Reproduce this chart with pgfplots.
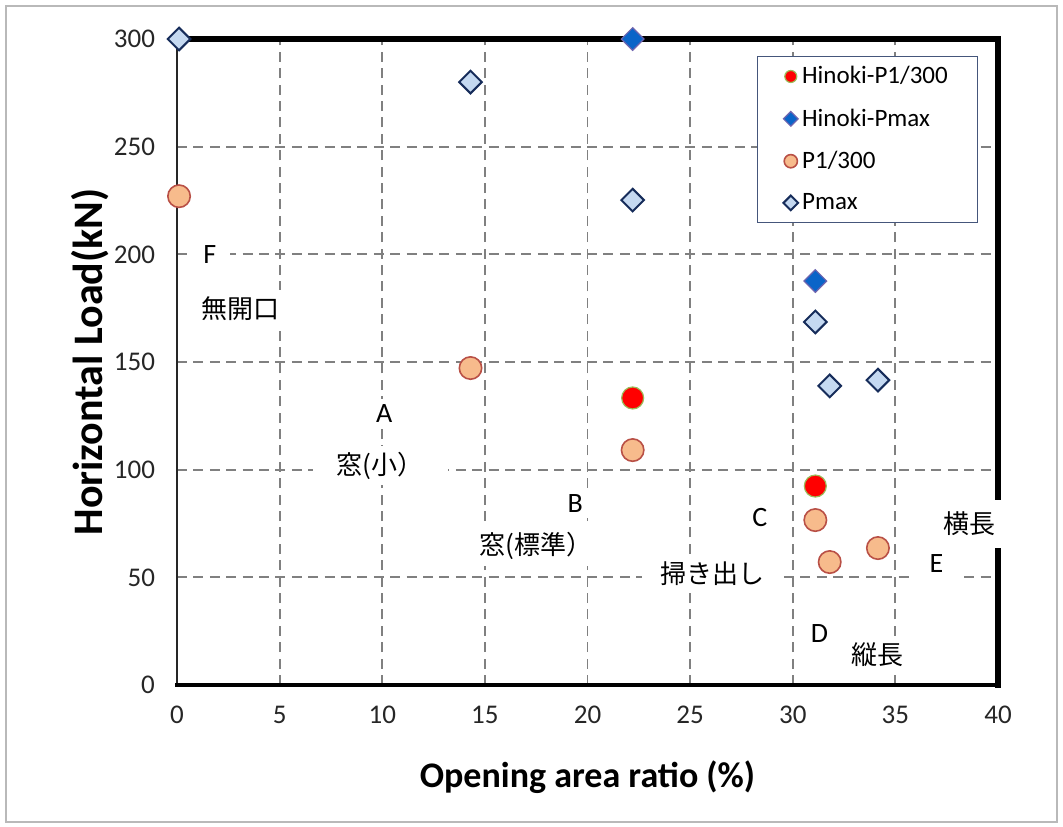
\documentclass[border=0pt]{standalone}
\usepackage{fontspec}
\setmainfont{Carlito}
\newfontfamily\jp{Noto Sans CJK JP}
\usepackage{pgfplots}
\pgfplotsset{compat=1.18}

\definecolor{porange}{RGB}{247,187,140}
\definecolor{pred}{RGB}{185,80,70}
\definecolor{pblue}{RGB}{197,217,241}
\definecolor{pnavy}{RGB}{22,44,90}
\definecolor{hblue}{RGB}{10,100,200}
\definecolor{hpurple}{RGB}{110,100,175}
\definecolor{hred}{RGB}{255,0,0}
\definecolor{hgreen}{RGB}{155,187,89}
\definecolor{gridgray}{RGB}{128,128,128}

\begin{document}
\begin{tikzpicture}[
  lab/.style={fill=white, inner xsep=7pt, inner ysep=3pt, font=\fontsize{14}{16}\selectfont},
  jlab/.style={fill=white, inner xsep=6pt, inner ysep=3pt, font=\jp\fontsize{13}{15}\selectfont},
]
\begin{axis}[name=ax, scale only axis, width=410.5pt, height=323pt,
  xmin=0, xmax=40, ymin=0, ymax=300,
  xtick={0,5,...,40}, ytick={0,50,...,300},
  major tick length=0pt,
  grid=major,
  major grid style={gridgray, line width=0.95pt, dash pattern=on 5pt off 3.2pt},
  axis line style={black!85, line width=1.4pt},
  tick label style={font=\fontsize{13.5}{16}\selectfont, text=black!85},
  /pgf/number format/assume math mode=true,
  xticklabel shift=7pt, yticklabel shift=7.5pt,
  clip=false,
  legend cell align=left,
  legend style={at={(rel axis cs:0.976,0.974)}, anchor=north east,
    draw=pnavy!80, line width=0.5pt, fill=white,
    font=\fontsize{12.5}{15}\selectfont,
    inner xsep=13pt, inner ysep=3pt, row sep=7pt},
]
% heavy frame on the top and right edges
\draw[black, line width=2.6pt, line cap=rect] (rel axis cs:0,1) -- (rel axis cs:1,1) -- (rel axis cs:1,0);
\draw[black, line width=1.9pt, line cap=rect] (rel axis cs:0,0) -- (rel axis cs:1,0);

\addplot[only marks, mark=*, draw=hgreen, fill=hred, mark size=5.5pt, line width=0.6pt,
  legend image post style={mark size=3pt}]
  coordinates {(22.2,133.3) (31.1,92.4)};
\addlegendentry{Hinoki-P1/300}

\addplot[only marks, mark=square*, mark options={rotate=45}, draw=hpurple, fill=hblue,
  mark size=4pt, line width=0.6pt, legend image post style={mark size=2.6pt}]
  coordinates {(22.2,300) (31.1,187.6)};
\addlegendentry{Hinoki-Pmax}

\addplot[only marks, mark=*, draw=pred, fill=porange, mark size=5.6pt, line width=0.8pt,
  legend image post style={mark size=3.3pt}]
  coordinates {(0.1,227) (14.3,147.2) (22.2,109.1) (31.1,76.6) (31.8,57.1) (34.15,63.6)};
\addlegendentry{P1/300}

\addplot[only marks, mark=square*, mark options={rotate=45}, draw=pnavy, fill=pblue,
  mark size=4pt, line width=1pt, legend image post style={mark size=2.6pt}]
  coordinates {(0.1,300) (14.3,280) (22.2,225.2) (31.1,168.6) (31.8,138.9) (34.15,141.6)};
\addlegendentry{Pmax}

% specimen labels
\node[lab] at (axis cs:1.6,199.7) {F};
\node[jlab] at (axis cs:3.1,175) {無開口};
\node[lab] at (axis cs:10.1,126) {A};
\node[jlab, inner xsep=12pt] at (axis cs:9.9,101.9) {窓(小）};
\node[lab] at (axis cs:19.4,84.5) {B};
\node[jlab] at (axis cs:17.5,64.5) {窓(標準）};
\node[lab] at (axis cs:28.4,77.6) {C};
\node[jlab, inner xsep=9pt] at (axis cs:26.07,51.5) {掃き出し};
\node[lab] at (axis cs:31.3,24) {D};
\node[jlab] at (axis cs:34.15,14.3) {縦長};
\node[lab, inner xsep=10pt] at (axis cs:37.0,56.3) {E};
\node[jlab, inner ysep=6pt] at (axis cs:38.6,74.7) {横長};
\end{axis}

\node[rotate=90, font=\bfseries\fontsize{21}{24}\selectfont] at ([xshift=-43.5pt]ax.west) {Horizontal Load(kN)};
\node[font=\bfseries\fontsize{18}{21}\selectfont] at ([yshift=-46pt]ax.south) {Opening area ratio (\%)};

\draw[gray!55, line width=0.9pt] ([shift={(-85.5pt,-68.5pt)}]ax.south west) rectangle ([shift={(29.5pt,16.5pt)}]ax.north east);
\path ([shift={(-88.5pt,-70.5pt)}]ax.south west) rectangle ([shift={(32.5pt,19.5pt)}]ax.north east);
\end{tikzpicture}
\end{document}
